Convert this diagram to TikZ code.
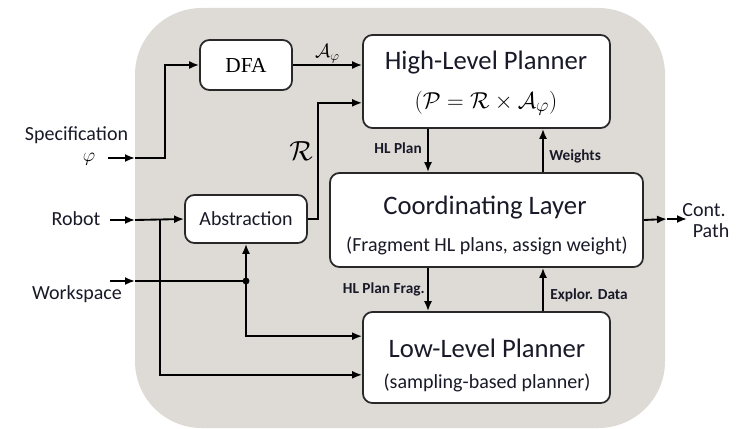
\documentclass[tikz,border=0pt]{standalone}
\usepackage{fontspec}
\newfontfamily\carl{Carlito}
\newfontfamily\tms{Liberation Serif}
\usetikzlibrary{arrows.meta}
\definecolor{bgGrey}{RGB}{222,219,215}
\definecolor{boxC}{RGB}{40,40,40}
\definecolor{txtC}{RGB}{25,25,40}
\tikzset{
  blk/.style={draw=boxC, line width=1.3pt, fill=white, rounded corners=7pt, inner sep=0pt},
  conn/.style={line width=1.4pt, draw=black, -{Latex[length=7.5pt,width=6pt]}},
  plain/.style={line width=1.4pt, draw=black},
  ttl/.style={font=\carl\fontsize{20}{22}\selectfont, text=txtC, inner sep=0pt},
  sub/.style={font=\carl\fontsize{15}{17}\selectfont, text=txtC, inner sep=0pt},
  lbl/.style={font=\carl\bfseries\fontsize{11.5}{13}\selectfont, text=txtC, inner sep=0pt},
  side/.style={font=\carl\fontsize{15}{17}\selectfont, text=txtC, inner sep=0pt},
}
\begin{document}
\begin{tikzpicture}[x=0.75pt,y=-0.75pt]
\useasboundingbox (0,0) rectangle (738,428);
\fill[bgGrey, rounded corners=50pt] (135,8) rectangle (665,428);

% boxes
\node[blk, minimum width=0.75*92pt, minimum height=0.75*50pt] (dfa) at (246,65) {\tms\fontsize{16}{18}\selectfont DFA};
\node[blk, minimum width=0.75*247pt, minimum height=0.75*93pt] (hlp) at (486.5,81.5) {};
\node[ttl] (hlpT) at (486,63) {High-Level Planner};
\node[inner sep=0pt, font=\fontsize{19}{21}\selectfont] (hlpM) at (486,103) {$(\mathcal{P}=\mathcal{R}\times\mathcal{A}_\varphi)$};
\node[blk, minimum width=0.75*313pt, minimum height=0.75*94pt] (coord) at (486.5,220) {};
\node[ttl] (coT) at (485,208) {Coordinating Layer};
\node[sub] (coS) at (487,246) {(Fragment HL plans, assign weight)};
\node[blk, minimum width=0.75*247pt, minimum height=0.75*91pt] (llp) at (486.5,357.5) {};
\node[ttl] (llT) at (487,348) {Low-Level Planner};
\node[sub] (llS) at (487,383) {(sampling-based planner)};
\node[blk, minimum width=0.75*122pt, minimum height=0.75*48pt, font=\carl\fontsize{15}{17}\selectfont, text=txtC] (abs) at (246,219) {Abstraction};

% side texts
\node[side] (spec) at (76.5,135) {Specification};
\node[inner sep=0pt, font=\fontsize{15}{17}\selectfont] (phi) at (89,159) {$\varphi$};
\node[side] (rob) at (76,219) {Robot};
\node[side] (ws) at (77,294) {Workspace};
\node[side] (cont) at (704,210) {Cont.};
\node[side] (path) at (711,231) {Path};

% coordinates
\coordinate (specIn) at (108,158);
\coordinate (specEdge) at (135,158);
\coordinate (specTurn) at (165,158);
\coordinate (robIn) at (110,220);
\coordinate (robEdge) at (135,220);
\coordinate (robBr) at (160,220);
\coordinate (wsIn) at (110,281);
\coordinate (wsEdge) at (135,281);
\coordinate (junc) at (246,281);
\coordinate (rTurn) at (318,219);
\coordinate (outEdge) at (667,219);
\coordinate (outEnd) at (687,219);
\coordinate (cA) at (428,0);
\coordinate (cB) at (543,0);

% connectors
\draw[conn] (specIn) -- (specEdge);
\draw[conn] (specEdge) -- (specTurn) |- (dfa.west);
\draw[conn] (dfa.east) -- (dfa.east -| hlp.west) node[midway, above=1pt, inner sep=0pt, font=\fontsize{14}{16}\selectfont] (aphi) {$\mathcal{A}_\varphi$};
\draw[conn] (abs.east) -- (rTurn) |- ([yshift=-16pt]hlp.west);
\node[inner sep=0pt, font=\fontsize{20}{22}\selectfont] (rlab) at (301,151) {$\mathcal{R}$};

\draw[conn] (hlp.south -| cA) -- (coord.north -| cA);
\draw[conn] (coord.north -| cB) -- (hlp.south -| cB);
\draw[conn] (coord.south -| cA) -- (llp.north -| cA);
\draw[conn] (llp.north -| cB) -- (coord.south -| cB);
\node[lbl, anchor=east] (lHL) at (422,148) {HL Plan};
\node[lbl, anchor=west] (lW) at (549,156) {Weights};
\node[lbl, anchor=east] (lHF) at (425,289) {HL Plan Frag.};
\node[lbl, anchor=west] (lED) at (550,295) {Explor. Data};

\draw[conn] (coord.east) -- (outEdge);
\draw[conn] (outEdge) -- (outEnd);

\draw[conn] (robIn) -- (robEdge);
\draw[conn] (robEdge) -- (abs.west);
\draw[conn] (robBr) |- ([yshift=-13pt]llp.west);

\draw[conn] (wsIn) -- (wsEdge);
\draw[plain] (wsEdge) -- (junc);
\draw[conn] (junc) -- (abs.south);
\draw[conn] (junc) |- ([yshift=16pt]llp.west);
\fill (junc) circle[radius=2.6pt];
\end{tikzpicture}
\end{document}
